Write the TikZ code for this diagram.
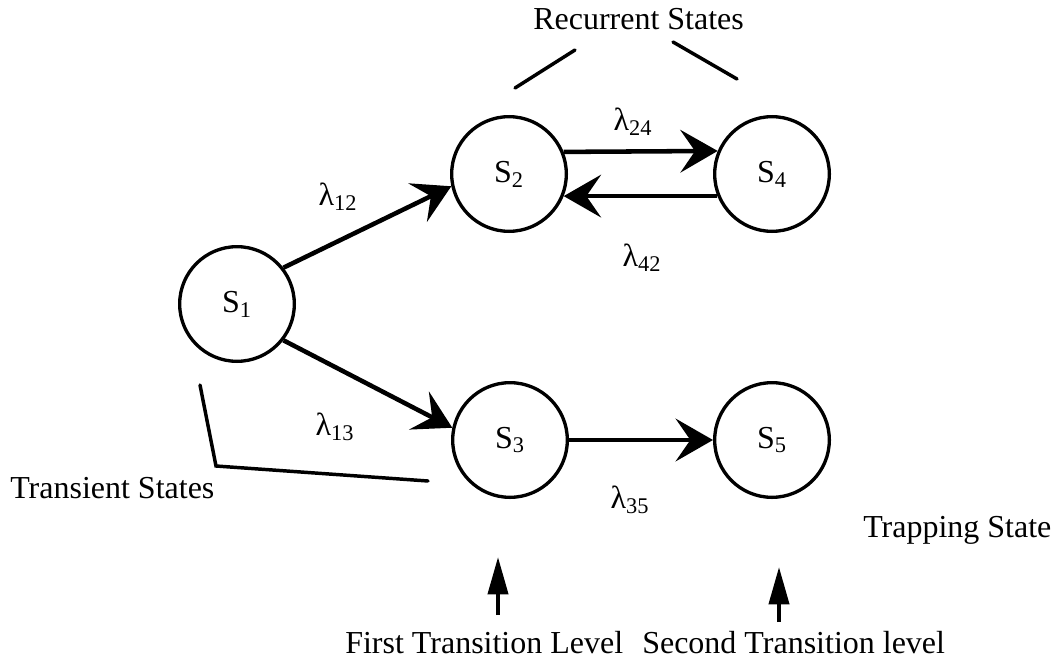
\documentclass[tikz,border=0pt]{standalone}
\usepackage{fontspec}
\setmainfont{Liberation Serif}
\usetikzlibrary{arrows.meta}
\begin{document}
\begin{tikzpicture}[x=0.75pt,y=-0.75pt,
  font=\fontsize{24}{27}\selectfont,
  state/.style={circle,draw,line width=2.5pt,minimum size=86pt,inner sep=0pt},
  trans/.style={line width=3.4pt,-{Stealth[length=28pt,width=32pt,inset=11pt]}},
  brace line/.style={line width=2.6pt,line cap=round},
  level/.style={line width=3pt,-{Triangle[length=28pt,width=15pt]}},
  lbl/.style={inner sep=1pt},
  caption/.style={anchor=base west,inner sep=0pt}]
\useasboundingbox (0,0) rectangle (1052,660);

% states
\node[state] (s1) at (237,304) {S\textsubscript{1}};
\node[state] (s2) at (509,174) {S\textsubscript{2}};
\node[state] (s4) at (772,174) {S\textsubscript{4}};
\node[state] (s3) at (510,440) {S\textsubscript{3}};
\node[state] (s5) at (772,440) {S\textsubscript{5}};

% transitions
\draw[trans] (s1.38) -- (s2.192);
\draw[trans] (s1.-38) -- (s3.168);
\draw[trans] (s2.22.7) -- (s4.157.3);
\draw[trans] (s4.202.7) -- (s2.-22.7);
\draw[trans] (s3) -- (s5);

% rates
\node[lbl] (l12) at (338,197) {λ\textsubscript{12}};
\node[lbl] (l24) at (633,122) {λ\textsubscript{24}};
\node[lbl] (l42) at (642,258) {λ\textsubscript{42}};
\node[lbl] (l13) at (335,427) {λ\textsubscript{13}};
\node[lbl] (l35) at (630,500) {λ\textsubscript{35}};

% group annotations
\node[caption] (rec) at (533,30) {Recurrent States};
\draw[brace line] (515,88) -- (575,50);
\draw[brace line] (673,42) -- (737,79);

\node[caption] (tra) at (10,498) {Transient States};
\draw[brace line] (200,385) -- (216,466) -- (428,481);

\node[caption] (trap) at (863,537) {Trapping State};

% transition levels
\node[caption] (first) at (345,653) {First Transition Level};
\node[caption] (second) at (642,653) {Second Transition level};
\coordinate (a1) at (498,615);
\coordinate (b1) at (498,557);
\coordinate (a2) at (779,622);
\coordinate (b2) at (779,567);
\draw[level] (a1) -- (b1);
\draw[level] (a2) -- (b2);
\end{tikzpicture}
\end{document}
